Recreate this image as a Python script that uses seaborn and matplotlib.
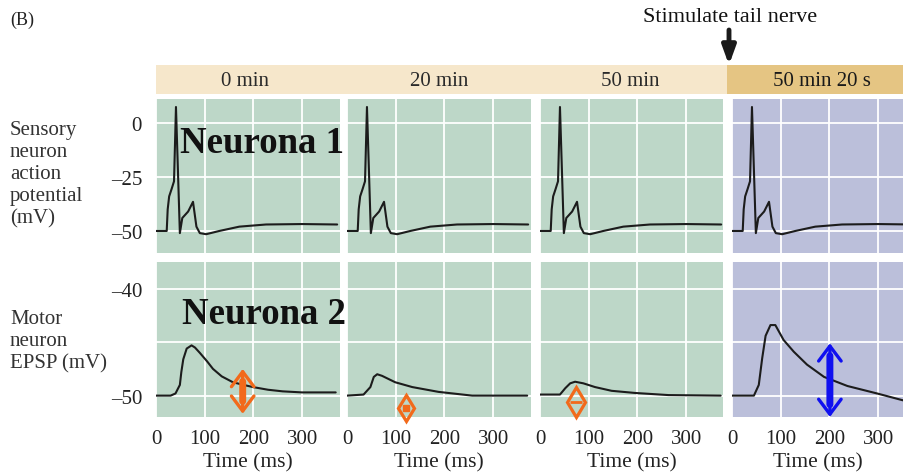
import matplotlib
matplotlib.use("Agg")
import matplotlib.pyplot as plt
import seaborn as sns
import pandas as pd
from matplotlib.patches import Rectangle, FancyArrowPatch

# ---------------- data ----------------
conditions = ["0 min", "20 min", "50 min", "50 min 20 s"]

# sensory neuron action potential (same shape in all four panels)
ap_time = [0, 22, 24, 27, 32, 37, 41, 49, 54, 60, 66, 76, 83, 90, 103, 130, 171, 226, 300, 372]
ap_mv = [-50, -50, -40, -34, -30.6, -27, 7.4, -51, -44, -42.5, -41, -36.5, -48, -51, -51.5, -50, -48, -47, -46.8, -47]

# motor neuron EPSP, one trace per condition
epsp_time_0 = [0, 30, 40, 49, 52, 56, 63, 73, 80, 90, 105, 117, 135, 158, 180, 199, 230, 260, 300, 369]
epsp_mv_0 = [-50, -50, -49.8, -49.0, -47.8, -46.6, -45.6, -45.3, -45.5, -46.0, -46.8, -47.5, -48.2, -48.75, -49.0, -49.2, -49.45, -49.6, -49.7, -49.7]

epsp_time_20 = [0, 34, 48, 55, 62, 72, 99, 134, 188, 257, 370]
epsp_mv_20 = [-50, -49.9, -49.2, -48.25, -48.0, -48.15, -48.75, -49.2, -49.65, -50.0, -50.0]

epsp_time_50 = [0, 41, 52, 62, 72, 89, 113, 147, 195, 264, 371]
epsp_mv_50 = [-49.9, -49.9, -49.3, -48.85, -48.7, -48.85, -49.2, -49.55, -49.75, -49.95, -50.0]

epsp_time_50s = [0, 45, 55, 62, 69, 79, 89, 106, 127, 154, 189, 237, 298, 352]
epsp_mv_50s = [-50, -50, -49.0, -46.5, -44.4, -43.4, -43.4, -44.8, -45.9, -47.1, -48.25, -49.1, -49.8, -50.45]

epsp_times = [epsp_time_0, epsp_time_20, epsp_time_50, epsp_time_50s]
epsp_values = [epsp_mv_0, epsp_mv_20, epsp_mv_50, epsp_mv_50s]

# EPSP-size arrows
arrow_time = [178, 121, 74, 201]
arrow_low = [-51.7, -52.4, -52.0, -52.0]
arrow_high = [-47.5, -50.0, -49.2, -45.1]

x_ticks = [0, 100, 200, 300]
ap_ticks = [0, -25, -50]
ap_tick_labels = ["0", "\u201325", "\u201350"]
epsp_ticks = [-40, -45, -50]
epsp_tick_labels = ["\u201340", "", "\u201350"]

# ---------------- style ----------------
sns.set_theme(style="darkgrid")
plt.rcParams["font.family"] = ["Liberation Serif", "DejaVu Serif"]
plt.rcParams["axes.unicode_minus"] = False

W, H = 904, 477
fig = plt.figure(figsize=(W / 100, H / 100), dpi=100)
fig.patch.set_facecolor("white")


def box(l, t, w, h):
    return [l / W, 1 - (t + h) / H, w / W, h / H]


def fx(px):
    return px / W


def fy(py):
    return 1 - py / H


green = "#bdd7c8"
purple = "#bbbfda"
panel_colors = [green, green, green, purple]
arrow_colors = ["#f26a1b", "#f26a1b", "#f26a1b", "#1010f0"]
arrow_kind = ["double", "diamond_dot", "diamond_bar", "double"]
trace_color = "#1c1c1c"

col_left = [156, 347, 540, 732]
col_width = [184, 184, 183, 172]
px_per_ms = 0.487
top_row = (100, 154)
bot_row = (263, 155)

# header band
band_top, band_h = 66, 29
fig.patches.append(Rectangle((fx(156), fy(band_top + band_h)), (727 - 156) / W, band_h / H,
                             transform=fig.transFigure, facecolor="#f6e7cb", edgecolor="none", zorder=0))
fig.patches.append(Rectangle((fx(727), fy(band_top + band_h)), (W - 727) / W, band_h / H,
                             transform=fig.transFigure, facecolor="#e5c583", edgecolor="none", zorder=0))

header_x = [245, 439, 630, 822]
for i, cond in enumerate(conditions):
    fig.text(fx(header_x[i]), fy(81), cond, ha="center", va="center", fontsize=15,
             color="#1a1a1a" if i == 3 else "#2a2a2a")

fig.text(fx(10), fy(20), "(B)", ha="left", va="center", fontsize=13, color="#222222")
fig.text(fx(730), fy(18), "Stimulate tail nerve", ha="center", va="center", fontsize=16, color="#111111")
fig.patches.append(FancyArrowPatch((fx(729), fy(31)), (fx(729), fy(66)), transform=fig.transFigure,
                                   arrowstyle="-|>,head_length=1.1,head_width=0.4", mutation_scale=10,
                                   lw=3.5, color="#1a1a1a", shrinkA=0, shrinkB=0))

fig.text(fx(10), fy(175), "Sensory\nneuron\naction\npotential\n(mV)", ha="left", va="center",
         fontsize=15, color="#333333", linespacing=1.22)
fig.text(fx(10), fy(342), "Motor\nneuron\nEPSP (mV)", ha="left", va="center",
         fontsize=15, color="#333333", linespacing=1.22)


def style_axes(ax, color):
    ax.set_facecolor(color)
    ax.grid(True, color="white", linewidth=1.3)
    for s in ax.spines.values():
        s.set_visible(False)
    ax.tick_params(length=0, labelsize=15, colors="#222222")
    ax.set_axisbelow(True)


for i in range(4):
    xmax = col_width[i] / px_per_ms
    # top row: action potentials
    ax = fig.add_axes(box(col_left[i], top_row[0], col_width[i], top_row[1]))
    style_axes(ax, panel_colors[i])
    sns.lineplot(x=ap_time, y=ap_mv, ax=ax, color=trace_color, linewidth=1.5, estimator=None, sort=False)
    ax.set_xlim(0, xmax)
    ax.set_ylim(-60.2, 11.1)
    ax.set_xticks(x_ticks)
    ax.set_xticklabels([])
    ax.set_yticks(ap_ticks)
    if i == 0:
        ax.set_yticklabels(ap_tick_labels)
        ax.tick_params(axis="y", pad=10)
    else:
        ax.set_yticklabels([])
    ax.set_xlabel("")
    ax.set_ylabel("")

    # bottom row: EPSPs
    ax2 = fig.add_axes(box(col_left[i], bot_row[0], col_width[i], bot_row[1]))
    style_axes(ax2, panel_colors[i])
    df = pd.DataFrame({"t": epsp_times[i], "v": epsp_values[i]})
    sns.lineplot(data=df, x="t", y="v", ax=ax2, color=trace_color, linewidth=1.5, estimator=None, sort=False)
    ax2.set_xlim(0, xmax)
    ax2.set_ylim(-52, -37.5)
    ax2.set_xticks(x_ticks)
    ax2.set_xticklabels([str(t) for t in x_ticks])
    ax2.tick_params(axis="x", pad=9)
    ax2.set_yticks(epsp_ticks)
    if i == 0:
        ax2.set_yticklabels(epsp_tick_labels)
        ax2.tick_params(axis="y", pad=10)
    else:
        ax2.set_yticklabels([])
    ax2.set_ylabel("")
    ax2.set_xlabel("Time (ms)", fontsize=15.5, color="#222222", labelpad=3)

    # arrows
    c = arrow_colors[i]
    x, lo, hi = arrow_time[i], arrow_low[i], arrow_high[i]
    if arrow_kind[i] == "double":
        ax2.annotate("", xy=(x, lo), xytext=(x, hi), annotation_clip=False,
                     arrowprops=dict(arrowstyle="<->,head_length=0.6,head_width=0.45", mutation_scale=18,
                                     lw=2.4, color=c, shrinkA=0, shrinkB=0))
        ax2.annotate("", xy=(x, lo), xytext=(x, hi), annotation_clip=False,
                     arrowprops=dict(arrowstyle="-", lw=5, color=c, shrinkA=9, shrinkB=9))
    else:
        y0 = ax2.transData.transform((x, lo))[1]
        y1 = ax2.transData.transform((x, hi))[1]
        span_pt = abs(y1 - y0) * 72 / 100
        mid = (lo + hi) / 2
        ax2.plot([x], [mid], marker="d", markersize=span_pt / 1.414, markerfacecolor="none",
                 markeredgecolor=c, markeredgewidth=2.3, clip_on=False, zorder=5)
        if arrow_kind[i] == "diamond_dot":
            ax2.plot([x], [mid], marker="s", markersize=4, color=c, clip_on=False, zorder=5)
        else:
            ax2.plot([x], [mid], marker="_", markersize=9, markeredgewidth=2, color=c, clip_on=False, zorder=5)

fig.text(fx(180), fy(144), "Neurona 1", ha="left", va="center", fontsize=26.5, weight="bold",
         color="#111111", zorder=10)
fig.text(fx(182), fy(314), "Neurona 2", ha="left", va="center", fontsize=26.5, weight="bold",
         color="#111111", zorder=10)

fig.savefig("out.png", dpi=100)
